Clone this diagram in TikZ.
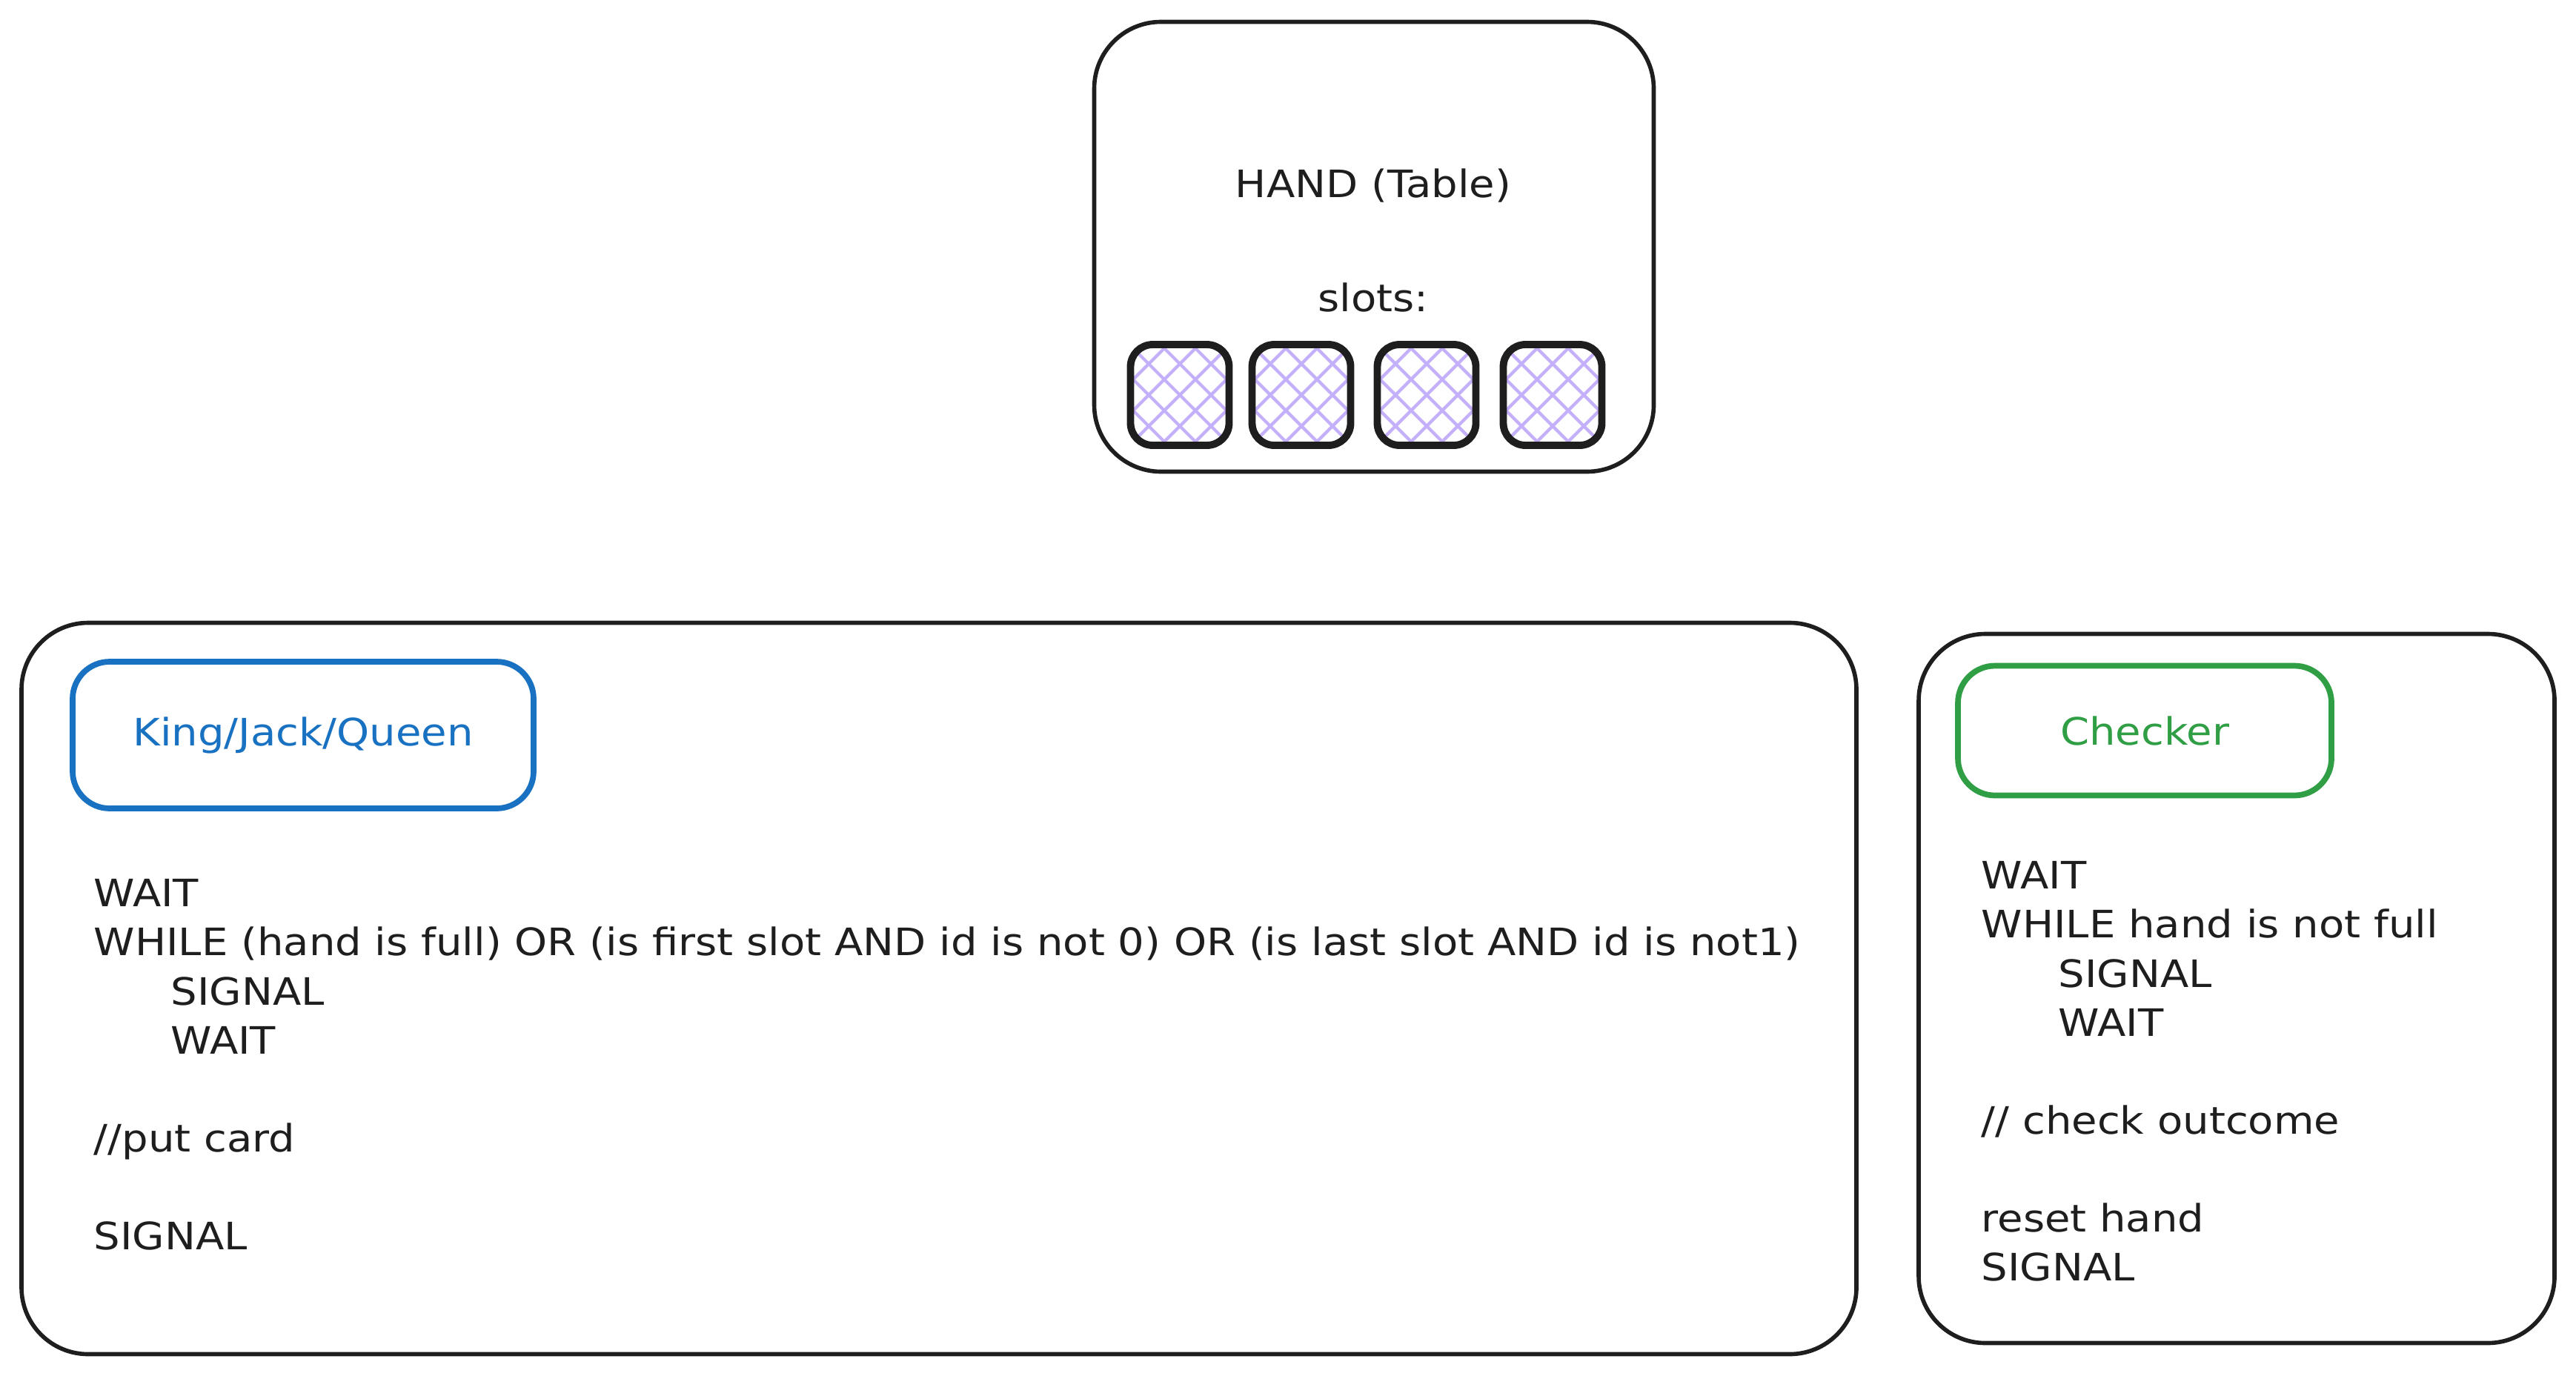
\documentclass[tikz,border=0pt]{standalone}
\usepackage{fontspec}
\setmainfont{DejaVu Sans}[FakeStretch=1.1]
\definecolor{ink}{HTML}{1E1E1E}
\definecolor{kblue}{HTML}{1971C2}
\definecolor{cgreen}{HTML}{2F9E44}
\definecolor{hatchcol}{HTML}{C4B0FA}
\tikzset{
  bigbox/.style={draw=ink, line width=1.6pt, rounded corners=0.9cm, inner sep=0pt},
  titlebox/.style={line width=2.2pt, rounded corners=0.5cm, inner sep=0pt},
  slotbox/.style={draw=ink, line width=2.8pt, rounded corners=0.3cm, inner sep=0pt,
    minimum width=1.33cm, minimum height=1.36cm,
    path picture={
      \begin{scope}[shift={(path picture bounding box.center)}]
        \foreach \k in {-5,...,5} {
          \draw[hatchcol, line width=1.2pt] (\k*0.42-1,-1) -- (\k*0.42+1,1);
          \draw[hatchcol, line width=1.2pt] (\k*0.42-1,1) -- (\k*0.42+1,-1);
        }
      \end{scope}
    }},
  txt/.style={font=\fontsize{14.5}{18.8}\selectfont, text=ink, inner sep=0pt},
  codetext/.style={txt, align=left, anchor=north west},
}
\newcommand{\ind}{\hspace*{1.04cm}}
\begin{document}
\begin{tikzpicture}[x=1cm,y=-1cm]
\useasboundingbox[fill=white] (0,0) rectangle (34.76,18.56);

% HAND table
\node[bigbox, minimum width=7.55cm, minimum height=6.07cm] (hand) at (18.54,3.33) {};
\node[txt] (handlbl) at (18.53,2.50) {HAND (Table)};
\node[txt] (slotslbl) at (18.53,4.01) {slots:};
\node[slotbox] (s1) at (15.92,5.33) {};
\node[slotbox] (s2) at (17.56,5.33) {};
\node[slotbox] (s3) at (19.25,5.33) {};
\node[slotbox] (s4) at (20.95,5.33) {};

% Players box
\node[bigbox, minimum width=24.76cm, minimum height=9.87cm] (players) at (12.67,13.34) {};
\node[titlebox, draw=kblue, minimum width=6.22cm, minimum height=1.98cm] (kjq) at (4.09,9.92) {};
\node[txt, text=kblue] (kjqlbl) at (kjq.center) {King/Jack/Queen};
\node[codetext] (pcode) at (1.26,11.86) {WAIT\\
WHILE (hand is full) OR (is first slot AND id is not 0) OR (is last slot AND id is not1)\\
\ind SIGNAL\\
\ind WAIT\\
\mbox{}\\
//put card\\
\mbox{}\\
SIGNAL};

% Checker box
\node[bigbox, minimum width=8.58cm, minimum height=9.57cm] (checkbox) at (30.18,13.34) {};
\node[titlebox, draw=cgreen, minimum width=5.04cm, minimum height=1.75cm] (chk) at (28.94,9.86) {};
\node[txt, text=cgreen] (chklbl) at (chk.center) {Checker};
\node[codetext] (ccode) at (26.73,11.62) {WAIT\\
WHILE hand is not full\\
\ind SIGNAL\\
\ind WAIT\\
\mbox{}\\
// check outcome\\
\mbox{}\\
reset hand\\
SIGNAL};
\end{tikzpicture}
\end{document}
